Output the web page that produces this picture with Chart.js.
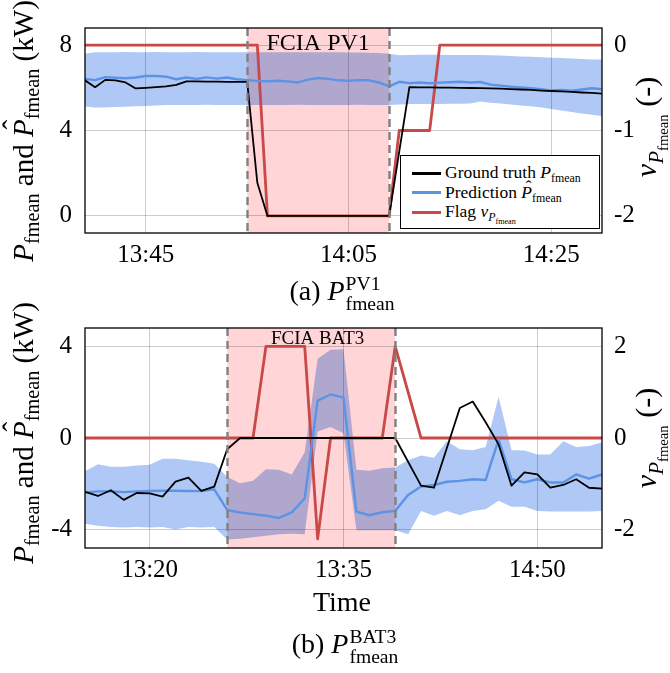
<!DOCTYPE html>
<html>
<head>
<meta charset="utf-8">
<script src="https://cdn.jsdelivr.net/npm/chart.js@4.4.1/dist/chart.umd.min.js"></script>
<style>
  html, body { margin: 0; padding: 0; background: #fff; }
  #fig { position: relative; width: 670px; height: 673px; overflow: hidden;
         font-family: "Liberation Serif", "DejaVu Serif", serif; color: #000; }
  canvas { position: absolute; left: 0; }
  .vt { position: absolute; width: 320px; height: 40px; margin-left: -160px; margin-top: -20px;
        display: flex; align-items: center; justify-content: center; transform: rotate(-90deg);
        white-space: nowrap; line-height: 1; font-size: 29px; }
  .hz { position: absolute; width: 300px; height: 44px; margin-left: -150px; margin-top: -22px;
        display: flex; align-items: center; justify-content: center;
        white-space: nowrap; line-height: 1; font-size: 28px; }
  sub { font-size: 0.7em; vertical-align: -0.32em; line-height: 0; font-style: normal; }
  .hat { position: relative; display: inline-block; }
  .hat::after { content: "\02C6"; position: absolute; left: 0.26em; top: -0.34em; font-style: normal; }
  .ss { display: inline-flex; flex-direction: column; font-size: 0.7em; line-height: 1.0;
        vertical-align: 10px; margin-left: 1px; }
  #legend { position: absolute; left: 400px; top: 155px; width: 198px; height: 72px;
            border: 1.3px solid #000; background: #fff; font-size: 17.5px; }
  #legend .row { position: absolute; left: 0; height: 20px; display: flex; align-items: center;
                 white-space: nowrap; line-height: 1; }
  #legend sub { font-size: 0.68em; }
  #legend .swatch { width: 29px; height: 3px; margin-left: 11px; margin-right: 4px; }
</style>
</head>
<body>
<div id="fig">
  <canvas id="pv" width="670" height="290" style="top:0px"></canvas>
  <canvas id="bat" width="670" height="300" style="top:300px"></canvas>

  <div class="vt" style="left:23px; top:131px"><span><i>P</i><sub>fmean</sub> and <i class="hat">P</i><sub>fmean</sub> (kW)</span></div>
  <div class="vt" style="left:647px; top:127px; font-size:30px"><span><i>v</i><sub><i>P</i><sub>fmean</sub></sub> (-)</span></div>
  <div class="hz" style="left:342px; top:294px"><span>(a) <i>P</i><span class="ss"><span>PV1</span><span>fmean</span></span></span></div>

  <div class="vt" style="left:23px; top:433px"><span><i>P</i><sub>fmean</sub> and <i class="hat">P</i><sub>fmean</sub> (kW)</span></div>
  <div class="vt" style="left:647px; top:438px; font-size:30px"><span><i>v</i><sub><i>P</i><sub>fmean</sub></sub> (-)</span></div>
  <div class="hz" style="left:342px; top:602px">Time</div>
  <div class="hz" style="left:345px; top:647px"><span>(b) <i>P</i><span class="ss"><span>BAT3</span><span>fmean</span></span></span></div>

  <div id="legend"></div>
</div>

<script>
// ---- PV1 window (one sample per minute) ----
const pvTime = ['13:39','13:40','13:41','13:42','13:43','13:44','13:45','13:46','13:47','13:48',
  '13:49','13:50','13:51','13:52','13:53','13:54','13:55','13:56','13:57','13:58','13:59',
  '14:00','14:01','14:02','14:03','14:04','14:05','14:06','14:07','14:08','14:09','14:10',
  '14:11','14:12','14:13','14:14','14:15','14:16','14:17','14:18','14:19','14:20','14:21',
  '14:22','14:23','14:24','14:25','14:26','14:27','14:28','14:29','14:30'];
const pvTruth = [6.35,6.03,6.37,6.35,6.25,5.97,6.00,6.03,6.07,6.14,6.30,6.30,6.29,6.29,6.28,6.28,6.28,1.55,0,0,0,
  0,0,0,0,0,0,0,0,0,0,null,
  6.03,6.02,6.02,6.01,6.01,6.00,5.99,5.98,5.97,5.96,5.94,5.92,5.90,5.87,5.85,5.83,5.81,5.78,5.76,5.73];
const pvPred = [6.42,6.36,6.50,6.47,6.45,6.48,6.55,6.56,6.52,6.40,6.48,6.42,6.49,6.43,6.48,6.40,6.36,6.32,6.30,6.33,6.30,
  6.25,6.38,6.46,6.42,6.35,6.33,6.36,6.35,6.25,6.07,6.28,6.22,6.25,6.21,6.24,6.26,6.28,6.25,6.27,6.15,
  6.10,6.05,6.02,5.98,5.93,5.87,5.90,5.86,5.92,5.98,5.93];
const pvUpper = [7.60,7.66,7.67,7.67,7.68,7.67,7.67,7.68,7.67,7.66,7.67,7.68,7.67,7.67,7.66,7.67,7.67,7.67,7.66,7.66,7.67,
  7.66,7.66,7.67,7.66,7.66,7.65,7.65,7.64,7.63,7.60,7.52,7.54,7.55,7.55,7.55,7.54,7.54,7.53,7.53,7.52,
  7.51,7.49,7.47,7.45,7.43,7.41,7.39,7.37,7.35,7.33,7.32];
const pvLower = [5.12,5.08,5.08,5.10,5.11,5.13,5.15,5.17,5.20,5.20,5.19,5.20,5.21,5.20,5.19,5.20,5.20,5.20,5.19,5.19,5.20,
  5.21,5.20,5.19,5.19,5.20,5.20,5.21,5.20,5.20,5.20,5.22,5.24,5.24,5.24,5.24,5.25,5.25,5.26,5.36,5.30,
  5.26,5.22,5.17,5.14,5.08,5.01,4.94,4.87,4.80,4.74,4.68];
const pvFlag = [0,0,0,0,0,0,0,0,0,0,0,0,0,0,0,0,0,0,-2,-2,-2,
  -2,-2,-2,-2,-2,-2,-2,-2,-2,-2,-1,-1,-1,-1,0,0,0,0,0,0,
  0,0,0,0,0,0,0,0,0,0,0];
const pvXTicks = ['13:45','14:05','14:25'];
const pvXTickLabels = ['13:45','14:05','14:25'];
const pvYTicks = [0, 4, 8];
const pvFlagTicks = [-2, -1, 0];
const pvWindow = { start: '13:55', end: '14:09', label: 'FCIA PV1', labelAt: '14:02' };

// ---- BAT3 window (one sample per minute) ----
const batTime = ['13:15','13:16','13:17','13:18','13:19','13:20','13:21','13:22','13:23','13:24',
  '13:25','13:26','13:27','13:28','13:29','13:30','13:31','13:32','13:33','13:34','13:35',
  '13:36','13:37','13:38','13:39','13:40','13:41','13:42','13:43','13:44','13:45','13:46',
  '13:47','13:48','13:49','13:50','13:51','13:52','13:53','13:54','13:55'];
const batTruth = [-2.35,-2.53,-2.28,-2.70,-2.40,-2.42,-2.56,-1.90,-1.73,-2.31,-2.12,-0.49,0,
  0,0,0,0,0,0,0,0,0,0,0,0,
  null,-2.08,-2.17,null,1.31,1.59,0.69,-0.28,-2.08,-1.50,-1.59,-2.17,-2.05,-1.80,-2.17,-2.21];
const batPred = [-2.38,-2.33,-2.33,-2.36,-2.33,-2.31,-2.30,-2.30,-2.31,-2.32,-2.24,
  -3.14,-3.25,-3.32,-3.39,-3.49,-3.25,-2.63,1.63,1.90,1.76,-3.21,-3.37,-3.24,-3.18,
  -2.49,-2.12,-2.05,-1.91,-1.87,-1.80,-1.83,-0.07,-1.80,-1.94,-1.80,-1.94,-1.94,-1.59,-1.77,-1.59];
const batUpper = [-1.45,-1.15,-1.25,-1.25,-1.20,-1.17,-0.90,-0.90,-0.97,-1.04,-1.12,
  -1.70,-1.97,-1.87,-1.36,-1.39,-1.59,-0.62,3.46,3.85,3.87,-1.39,-1.43,-1.32,-1.29,
  -0.97,-0.76,-0.86,-0.14,-0.49,-0.53,-0.39,1.80,-0.53,-0.55,-0.72,-0.72,-0.14,-0.39,-0.35,-0.18];
const batLower = [-3.74,-3.83,-3.88,-3.90,-3.88,-3.90,-3.88,-3.99,-3.88,-3.90,-3.88,
  -4.43,-4.40,-4.33,-4.27,-4.20,-4.18,-4.20,0.28,0.48,0.21,-4.02,-4.02,-4.02,-4.02,
  -4.20,-3.18,-3.39,-3.18,-3.37,-3.18,-3.11,-2.74,-3.00,-3.00,-3.18,-3.21,-3.21,-3.21,-3.21,-3.18];
const batFlag = [0,0,0,0,0,0,0,0,0,0,0,0,0,0,2,2,2,2,-2.2,0,0,0,0,0,2,null,
  0,0,0,0,0,0,0,0,0,0,0,0,0,0,0];
const batXTicks = ['13:20','13:35','13:50'];
const batXTickLabels = ['13:20','13:35','14:50'];
const batYTicks = [-4, 0, 4];
const batFlagTicks = [-2, 0, 2];
const batWindow = { start: '13:26', end: '13:39', label: 'FCIA BAT3', labelAt: '13:33' };

// ---- styling ----
const COLORS = {
  truth: '#000000',
  pred: '#5b93e6',
  flag: '#c94848',
  band: '#b0c8f5',
  window: '#ffd5d8',
  grid: '#cdcdcd',
  dash: '#808080'
};
const SERIF = 'Liberation Serif';

const toMin = t => { const [h, m] = t.split(':').map(Number); return h * 60 + m; };
const points = (times, vals) => times.map((t, i) => ({ x: toMin(t), y: vals[i] }));

// Shaded attack window, dashed borders, window caption and plot frame.
function windowPlugin(win, labelSize, labelDy) {
  return {
    id: 'windowOverlay',
    beforeDraw(chart) {
      const { ctx, chartArea: a, scales: { x } } = chart;
      // band and window tint each other like overlapping translucent ink
      ctx.globalCompositeOperation = 'multiply';
      const x0 = x.getPixelForValue(toMin(win.start));
      const x1 = x.getPixelForValue(toMin(win.end));
      ctx.fillStyle = COLORS.window;
      ctx.fillRect(x0, a.top, x1 - x0, a.bottom - a.top);
    },
    beforeDatasetDraw(chart, args) {
      if (!chart.data.datasets[args.index].isBand) chart.ctx.globalCompositeOperation = 'source-over';
    },
    afterDatasetDraw(chart) {
      chart.ctx.globalCompositeOperation = 'multiply';
    },
    afterDatasetsDraw(chart) {
      const { ctx, chartArea: a, scales: { x } } = chart;
      ctx.save();
      ctx.globalCompositeOperation = 'source-over';
      ctx.strokeStyle = COLORS.dash;
      ctx.lineWidth = 2.4;
      ctx.setLineDash([8, 5]);
      [win.start, win.end].forEach(t => {
        const px = Math.round(x.getPixelForValue(toMin(t))) + 0.5;
        ctx.beginPath();
        ctx.moveTo(px, a.top);
        ctx.lineTo(px, a.bottom);
        ctx.stroke();
      });
      ctx.setLineDash([]);
      ctx.fillStyle = '#000';
      ctx.font = labelSize + 'px "' + SERIF + '"';
      ctx.textAlign = 'center';
      ctx.textBaseline = 'alphabetic';
      ctx.fillText(win.label, x.getPixelForValue(toMin(win.labelAt)), a.top + labelDy);
      ctx.strokeStyle = '#000';
      ctx.lineWidth = 1.3;
      ctx.strokeRect(a.left, a.top, a.right - a.left, a.bottom - a.top);
      ctx.restore();
    },
    afterDraw(chart) {
      chart.ctx.globalCompositeOperation = 'source-over';
    }
  };
}

function buildChart(id, c) {
  const line = { pointRadius: 0, pointHoverRadius: 0, fill: false, tension: 0, spanGaps: true,
                 borderJoinStyle: 'round', borderCapStyle: 'butt' };
  const tickFont = { family: SERIF, size: 25 };
  const xVals = c.time.map(toMin);
  const xTickVals = c.xTicks.map(toMin);
  return new Chart(document.getElementById(id), {
    type: 'line',
    data: {
      datasets: [
        { ...line, label: 'Ground truth', data: points(c.time, c.truth), borderColor: COLORS.truth, borderWidth: 1.8, yAxisID: 'y' },
        { ...line, label: 'Prediction', data: points(c.time, c.pred), borderColor: COLORS.pred, borderWidth: 2.4, yAxisID: 'y' },
        { ...line, label: 'Flag', data: points(c.time, c.flag), borderColor: COLORS.flag, borderWidth: 2.8, yAxisID: 'y2' },
        { ...line, label: 'Upper', data: points(c.time, c.upper), borderColor: 'rgba(0,0,0,0)', borderWidth: 0.01,
          backgroundColor: COLORS.band, fill: '+1', yAxisID: 'y', isBand: true },
        { ...line, label: 'Lower', data: points(c.time, c.lower), borderColor: 'rgba(0,0,0,0)', borderWidth: 0.01,
          yAxisID: 'y', isBand: true }
      ]
    },
    options: {
      responsive: false,
      animation: false,
      events: [],
      layout: { padding: { top: c.padTop, left: 0, right: 0, bottom: 0 } },
      plugins: { legend: { display: false }, tooltip: { enabled: false } },
      scales: {
        x: {
          type: 'linear', min: xVals[0], max: xVals[xVals.length - 1],
          afterBuildTicks: s => { s.ticks = xTickVals.map(v => ({ value: v })); },
          afterFit: s => { s.height = c.xHeight; },
          ticks: { callback: v => c.xTickLabels[xTickVals.indexOf(v)], font: tickFont, color: '#000',
                   padding: 7, autoSkip: false, maxRotation: 0 },
          grid: { color: COLORS.grid, lineWidth: 1, drawTicks: false },
          border: { display: false }
        },
        y: {
          position: 'left', min: c.yRange[0], max: c.yRange[1],
          afterBuildTicks: s => { s.ticks = c.yTicks.map(v => ({ value: v })); },
          afterFit: s => { s.width = 85; },
          ticks: { callback: v => String(v), font: tickFont, color: '#000', padding: 13 },
          grid: { color: COLORS.grid, lineWidth: 1, drawTicks: false },
          border: { display: false }
        },
        y2: {
          position: 'right', min: c.flagRange[0], max: c.flagRange[1],
          afterBuildTicks: s => { s.ticks = c.flagTicks.map(v => ({ value: v })); },
          afterFit: s => { s.width = 68; },
          ticks: { callback: v => String(v), font: tickFont, color: '#000', padding: 12 },
          grid: { display: false, drawTicks: false },
          border: { display: false }
        }
      }
    },
    plugins: [windowPlugin(c.window, c.labelSize, c.labelDy)]
  });
}

const pvChart = buildChart('pv', {
  time: pvTime, truth: pvTruth, pred: pvPred, upper: pvUpper, lower: pvLower, flag: pvFlag,
  xTicks: pvXTicks, xTickLabels: pvXTickLabels, yTicks: pvYTicks, flagTicks: pvFlagTicks,
  yRange: [-0.8, 8.8], flagRange: [-2.2, 0.2], window: pvWindow,
  padTop: 3, xHeight: 57, labelSize: 24, labelDy: 22
});

buildChart('bat', {
  time: batTime, truth: batTruth, pred: batPred, upper: batUpper, lower: batLower, flag: batFlag,
  xTicks: batXTicks, xTickLabels: batXTickLabels, yTicks: batYTicks, flagTicks: batFlagTicks,
  yRange: [-4.8, 4.8], flagRange: [-2.4, 2.4], window: batWindow,
  padTop: 18, xHeight: 52, labelSize: 19, labelDy: 16
});

// HTML legend for the PV1 panel, colours taken from its datasets
const legendText = [
  'Ground truth <i>P</i><sub>fmean</sub>',
  'Prediction <i class="hat">P</i><sub>fmean</sub>',
  'Flag <i>v</i><sub><i>P</i><sub>fmean</sub></sub>'
];
const legendEl = document.getElementById('legend');
pvChart.data.datasets.slice(0, 3).forEach((ds, i) => {
  const row = document.createElement('div');
  row.className = 'row';
  row.style.top = (7 + i * 19.5) + 'px';
  row.innerHTML = '<span class="swatch" style="background:' + ds.borderColor + '"></span><span>' + legendText[i] + '</span>';
  legendEl.appendChild(row);
});
</script>
</body>
</html>
